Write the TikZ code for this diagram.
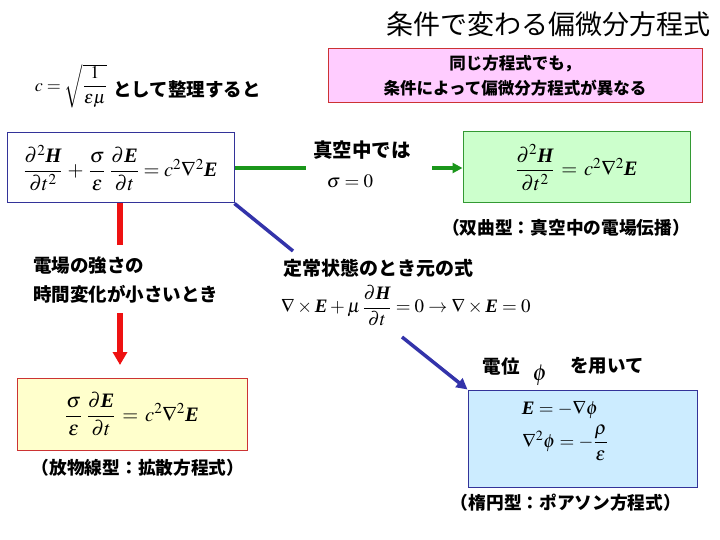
\documentclass[tikz,border=0pt]{standalone}
\usepackage{amsmath}
\usepackage{mathptmx}
\usepackage[no-math]{fontspec}
\newfontfamily\jp{Noto Sans CJK JP}
\newfontfamily\tms{Liberation Serif}
\newcommand{\bE}{\text{\tms\bfseries\itshape E}}
\newcommand{\bH}{\text{\tms\bfseries\itshape H}}
\usetikzlibrary{arrows.meta}
\definecolor{navy}{RGB}{51,51,153}
\definecolor{gbord}{RGB}{51,153,51}
\definecolor{gfill}{RGB}{204,255,204}
\definecolor{yfill}{RGB}{255,255,204}
\definecolor{rbord}{RGB}{204,51,51}
\definecolor{bfill}{RGB}{204,236,255}
\definecolor{pfill}{RGB}{255,204,255}
\definecolor{gline}{RGB}{26,150,26}
\definecolor{rline}{RGB}{238,17,17}
\definecolor{bline}{RGB}{51,51,170}
\begin{document}
\begin{tikzpicture}[x=1pt,y=-1pt,
  jpb/.style={font=\jp\bfseries\fontsize{18.5}{22}\selectfont, inner sep=0pt},
  jpcap/.style={font=\jp\bfseries\fontsize{17.7}{22}\selectfont, inner sep=0pt},
  eqbox/.style={draw, line width=1pt, inner sep=0pt},
  mth/.style={font=\fontsize{19}{23}\selectfont, inner sep=0pt},
  mthb/.style={font=\fontsize{20.5}{24}\selectfont, inner sep=0pt}]
\useasboundingbox[fill=white] (0,0) rectangle (720,540);
% title
\node[inner sep=0pt, font=\jp\fontsize{27}{30}\selectfont] (title) at (548,24) {条件で変わる偏微分方程式};
% pink box
\node[eqbox, draw=rbord, fill=pfill, minimum width=374pt, minimum height=54pt, align=center,
  font=\jp\bfseries\fontsize{16.5}{25}\selectfont] (pink) at (515,76) {同じ方程式でも，\\条件によって偏微分方程式が異なる};
% c definition
\node[font=\fontsize{18}{22}\selectfont, inner sep=0pt] (cdef) at (71,86) {$c=\sqrt{\dfrac{1}{\varepsilon\mu}}$};
\node[jpb, anchor=west] (seiri) at (113,89) {として整理すると};
% boxes
\node[eqbox, draw=navy, fill=white, minimum width=227pt, minimum height=70pt, mthb] (b1) at (120.5,168)
  {$\dfrac{\partial^2 \bH}{\partial t^2}\,+\,\dfrac{\sigma}{\varepsilon}\;\dfrac{\partial \bE}{\partial t}=c^2\nabla^2\bE$};
\node[eqbox, draw=gbord, fill=gfill, minimum width=227pt, minimum height=71pt, mthb] (b2) at (576.5,167.5)
  {$\dfrac{\partial^2 \bH}{\partial t^2}\,=\,c^2\nabla^2\bE$};
\node[eqbox, draw=rbord, fill=yfill, minimum width=230pt, minimum height=72pt, mthb] (b3) at (132,414)
  {$\dfrac{\sigma}{\varepsilon}\;\dfrac{\partial \bE}{\partial t}\,=\,c^2\nabla^2\bE$};
\node[eqbox, draw=navy, fill=bfill, minimum width=229pt, minimum height=97pt] (b4) at (582.5,438.5) {};
\node[mth] (e4a) at (560,410) {$\bE=-\nabla\phi$};
\node[mth] (e4b) at (565,443) {$\nabla^2\phi=-\dfrac{\rho}{\varepsilon}$};
% labels
\node[jpb, font=\jp\bfseries\fontsize{19.5}{22}\selectfont] (vac) at (362,150) {真空中では};
\node[mth] (sig) at (350,181) {$\sigma=0$};
\node[jpcap] (cap2) at (566,228) {（双曲型：真空中の電場伝播）};
\node[jpb, anchor=west] (lab3a) at (33,265) {電場の強さの};
\node[jpb, anchor=west] (lab3b) at (33,294) {時間変化が小さいとき};
\node[jpcap] (cap3) at (138,468) {（放物線型：拡散方程式）};
\node[jpb, font=\jp\bfseries\fontsize{19}{22}\selectfont, anchor=west] (lab4) at (283,268) {定常状態のとき元の式};
\node[mth, anchor=west] (eqrot) at (281,306) {$\nabla\times\bE+\mu\,\dfrac{\partial \bH}{\partial t}=0\to\nabla\times\bE=0$};
\node[jpb] (den) at (501,366) {電位};
\node[font=\fontsize{23}{26}\selectfont, inner sep=0pt] (phi) at (540,375) {$\phi$};
\node[jpb] (mochi) at (607,366) {を用いて};
\node[jpcap] (cap4) at (566,503) {（楕円型：ポアソン方程式）};
% connectors
\coordinate (g1) at (306,168);
\coordinate (g2) at (432,168);
\draw[gline, line width=4pt] (b1.east |- g1) -- (g1);
\draw[gline, line width=4pt, -{Triangle[length=10pt,width=10pt]}] (g2) -- (b2.west |- g2);
\coordinate (r0) at (120,203);
\coordinate (r1) at (120,245);
\coordinate (r2) at (120,313);
\coordinate (r3) at (120,365);
\draw[rline, line width=6pt] (r0) -- (r1);
\draw[rline, line width=6pt, -{Triangle[length=13pt,width=14pt]}] (r2) -- (r3);
\coordinate (k1) at (293,251);
\coordinate (k2) at (402,337);
\draw[bline, line width=3.5pt] (b1.south east) -- (k1);
\draw[bline, line width=3.5pt, -{Triangle[length=11pt,width=11pt]}] (k2) -- (b4.north west);
\end{tikzpicture}
\end{document}
